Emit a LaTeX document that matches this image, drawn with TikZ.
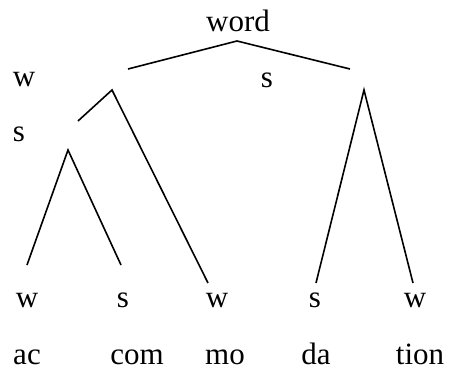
\documentclass[tikz,border=0pt]{standalone}
\usepackage{fontspec}
\setmainfont{Liberation Serif}
\begin{document}
\begin{tikzpicture}[x=1pt,y=-1pt,
  lab/.style={anchor=base, inner sep=0pt, font=\fontsize{31}{31}\selectfont},
  branch/.style={line width=1.6pt, line join=miter}]
\useasboundingbox (0,0) rectangle (451,371);

% labels of the metrical tree
\node[lab] (word) at (238,32) {word};
\node[lab] (wA) at (24,87) {w};
\node[lab] (sA) at (267,88) {s};
\node[lab] (sB) at (19,142) {s};
\node[lab] (w1) at (27,308) {w};
\node[lab] (s1) at (123,308) {s};
\node[lab] (w2) at (217,308) {w};
\node[lab] (s2) at (315,308) {s};
\node[lab] (w3) at (415,308) {w};

% syllables
\node[lab] (ac)   at (27,365)  {ac};
\node[lab] (com)  at (137,365) {com};
\node[lab] (mo)   at (225,365) {mo};
\node[lab] (da)   at (316,365) {da};
\node[lab] (tion) at (420,365) {tion};

% branch points and branch ends
\coordinate (rootApex) at (237,41);
\coordinate (rootL) at (128,69);
\coordinate (rootR) at (350,69);
\coordinate (wApex) at (112,90);
\coordinate (wToS) at (78,121);
\coordinate (wToMo) at (208,283);
\coordinate (sApex) at (68,150);
\coordinate (sToAc) at (27,265);
\coordinate (sToCom) at (121,265);
\coordinate (rApex) at (364,90);
\coordinate (rToDa) at (316,283);
\coordinate (rToTion) at (413,283);

\draw[branch] (rootL) -- (rootApex) -- (rootR);
\draw[branch] (wToS) -- (wApex) -- (wToMo);
\draw[branch] (sToAc) -- (sApex) -- (sToCom);
\draw[branch] (rToDa) -- (rApex) -- (rToTion);
\end{tikzpicture}
\end{document}
